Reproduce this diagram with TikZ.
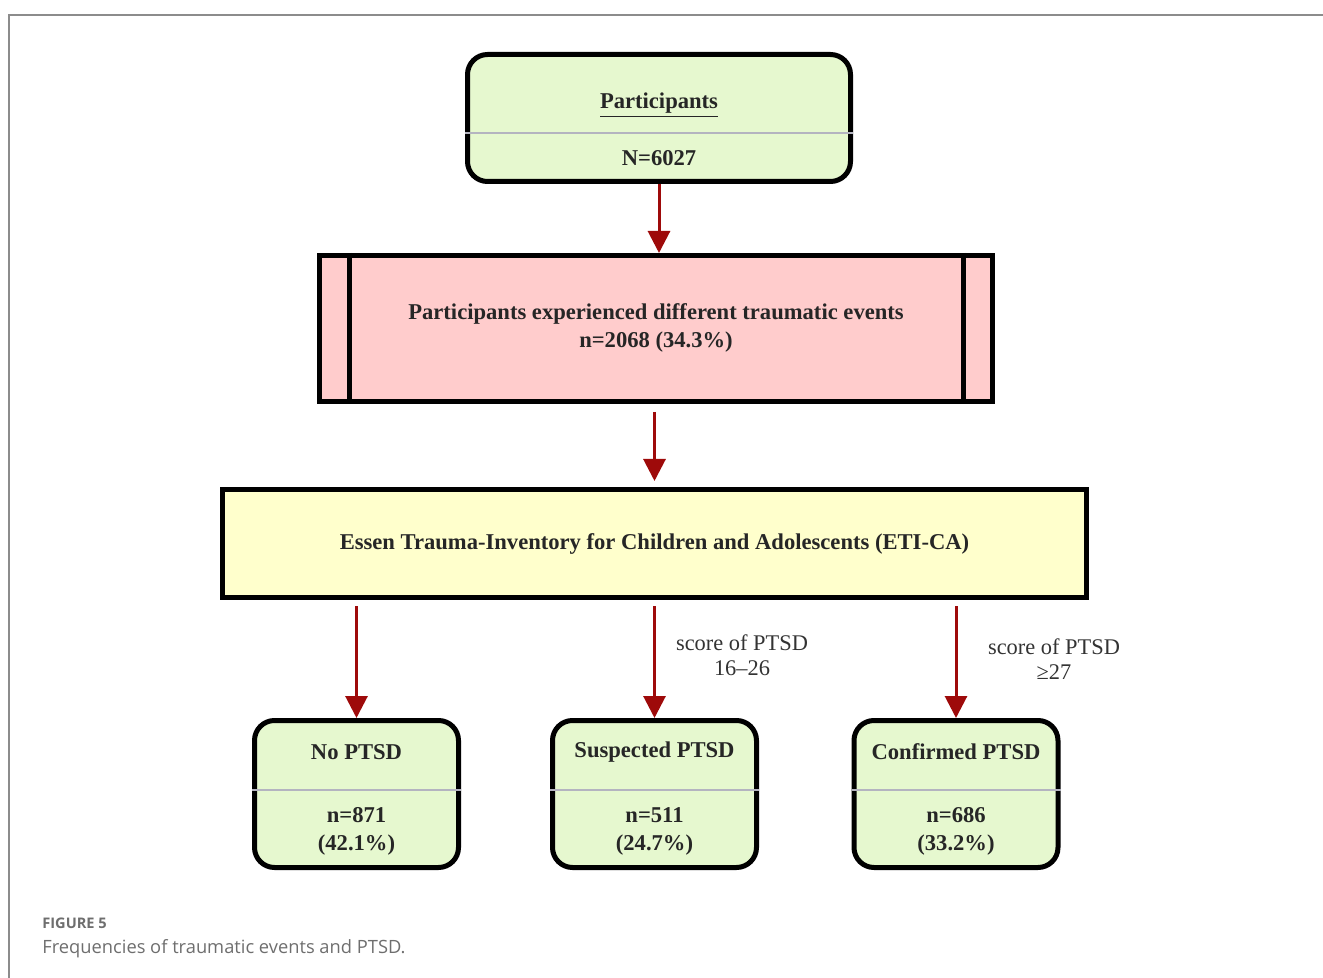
\documentclass[tikz,border=0pt]{standalone}
\usepackage{fontspec}
\setmainfont{Liberation Serif}
\newfontfamily\capfont{Open Sans}
\usetikzlibrary{positioning,arrows.meta}

\definecolor{boxgreen}{HTML}{E6F8CF}
\definecolor{boxpink}{HTML}{FFCCCC}
\definecolor{boxyellow}{HTML}{FFFFCC}
\definecolor{arrowred}{HTML}{9E0A0A}
\definecolor{splitgray}{HTML}{B4B4C0}
\definecolor{framegray}{HTML}{8C8C8C}
\definecolor{capgray}{HTML}{6E6E6E}

\begin{document}
\begin{tikzpicture}[x=0.5pt,y=-0.5pt,
  greenbox/.style = {draw=black, line width=2.5pt, fill=boxgreen, rounded corners=10pt},
  flatbox/.style = {draw=black, line width=2.5pt},
  splitline/.style = {splitgray, line width=1pt},
  flow/.style = {arrowred, line width=1.5pt, -{Triangle[length=11pt,width=11pt]}},
  boxtext/.style = {font=\bfseries\fontsize{11.3}{14}\selectfont, align=center, text=black!85},
  cond/.style = {font=\fontsize{11.2}{12.5}\selectfont, align=center, text=black!80}]
\useasboundingbox (0,0) rectangle (1323,978);
\draw[framegray, line width=1pt] (1323,15) -- (9,15) -- (9,978);

% participants
\node[greenbox, minimum width=191.5pt, minimum height=63.5pt] (part) at (659,118) {};
\draw[splitline] (part.west |- 0,133) -- (part.east |- 0,133);
\node[boxtext] (parttitle) at (659,105) {\underline{Participants}};
\node[boxtext] (partn) at (659,158) {N=6027};

% traumatic events
\node[flatbox, fill=boxpink, minimum width=336.5pt, minimum height=73pt] (events) at (656,328.5) {};
\draw[flatbox] ([xshift=16pt]events.north west) -- ([xshift=16pt]events.south west);
\draw[flatbox] ([xshift=-16pt]events.north east) -- ([xshift=-16pt]events.south east);
\node[boxtext] (eventstext) at (656,328) {Participants experienced different traumatic events\\n=2068 (34.3\%)};

% ETI-CA
\node[flatbox, fill=boxyellow, minimum width=432pt, minimum height=54pt] (eti) at (654.5,543.5) {};
\node[boxtext] (etitext) at (654.5,543.5) {Essen Trauma-Inventory for Children and Adolescents (ETI-CA)};

% outcome boxes
\foreach \name/\x/\title/\n/\pct in {none/356.5/No PTSD/871/42.1,
    suspect/654.5/Suspected PTSD/511/24.7,
    confirm/956/Confirmed PTSD/686/33.2} {
  \node[greenbox, minimum width=102pt, minimum height=73.5pt] (\name) at (\x,794) {};
  \draw[splitline] (\name.west |- 0,790) -- (\name.east |- 0,790);
  \node[boxtext] (\name title) at (\x,752) {\title};
  \node[boxtext] (\name n) at (\x,831.5) {n=\n\\(\pct\%)};
  \draw[flow, shorten <=3pt] (eti.south -| \name.north) -- (\name.north);
}

% arrows
\draw[flow] (part.south) -- (part.south |- events.north);
\draw[flow, shorten <=4pt, shorten >=3pt] (eti.north |- events.south) -- (eti.north);

% conditions
\node[cond] (lowcond) at (742,655) {score of PTSD\\16–26};
\node[cond] (highcond) at (1054,659) {score of PTSD\\≥27};

% caption
\node[anchor=base west, inner sep=0pt, font=\capfont\bfseries\fontsize{7.3}{8}\selectfont, text=capgray] (figlabel) at (42,928) {FIGURE 5};
\node[anchor=base west, inner sep=0pt, font=\capfont\fontsize{9.15}{10}\selectfont, text=capgray] (figcaption) at (42,953) {Frequencies of traumatic events and PTSD.};
\end{tikzpicture}
\end{document}
